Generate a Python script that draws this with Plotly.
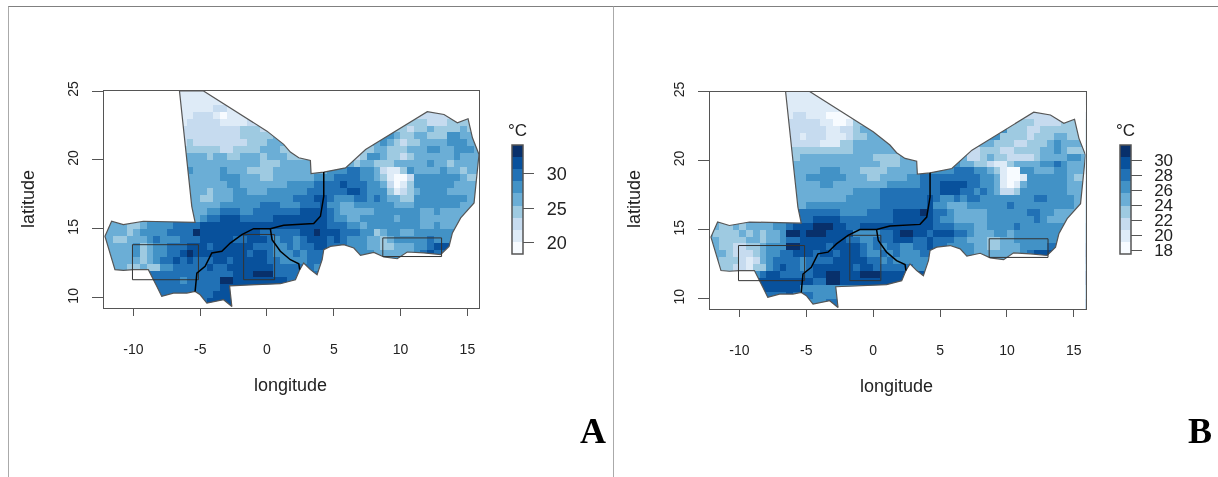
import numpy as np
import plotly.graph_objects as go

# Colour classes read from the two maps (0 palest ... 8 darkest), 0.5 degree cells,
# north to south, '.' = outside the region.
LEVELS_A = [
"...........111111",
"............1111111",
"............111112211",
"............11222101111..........................222",
"............122222111122.......................3322233",
"............22222222233323..............4333332334333343",
"............222222222333334...........444455433443335544",
"............23222222223334444.......443344543233444455544",
".............33333223333444333.....5444334433344455445554",
".............4443443344434443334.5554423554332344444454444",
".............444444444443334444455555434433344444544344444",
".............54444544433334444444455566554211354444544344",
"..............44445554443344444455566665543100255555554334",
"..............4444455444444455556666766655420135555554444",
"..............4434445544455555566666677655531234555544444",
"..............4334445555555556667765556656544335555555544",
"..............444455555566655566675544555555444555555544",
"..............4455666556666666777765444445555555445444",
"..............456677766666777777776554455555455544444",
".444334555566667777777777777777777666554555555554454",
"444434555566668777777777666666778777666553455445555",
"443344456555666777776677765665677767655544345555565",
"444445345566677767777776665565667766655544334445567",
".44445345566787777777767765556566655665554444445676",
".44444345667676667767777766555566666555555555555566",
"...4334335566666766777777766666655",
".......666666666666677788866666",
"........6666566666887777777766",
"........666666666677",
".........66666666777",
"..............667777",
"................7777",
]
LEVELS_B = [
"...........111111",
"............1111111",
"............111111110",
"............12211100000..........................222",
"............222221100133.......................3322223",
"............22222211223444..............3455533322333333",
"............221222111233444...........445555333323334433",
"............22222111334444444.......445444433322333454444",
".............33333333344444444....5443222333223333445433",
".............3444444444443333444.5555442234332222344445544",
".............444444444444433344455566544332113444455654444",
".............44445554443333444444555566655431005544455444",
"..............45555554443344445566666666655410015555554334",
"..............4445544444444555556667777665541014555555444",
"..............4444444455556666666667776656542235555555444",
"..............4444444555556666666765565665555555566555544",
"..............455555555555666666675544455555565555555554",
"..............6666665555666677778766544444555555665544",
"..............667777666666667777776554444455555556544",
".433434444556777888776677777777777666555445555655555",
"433334343445887888777755556678877677766544455455555",
"443333443445667777777665566677766766655444334455555",
"4433223345558877776777765656655667665555443344455556",
".44322234556677767767776556565556655555544444445677",
".43332124566665666677777665655555555555444444455566",
"...3221335676656777777677666666555",
".......567766666778877788877777",
"........7777777766887777777777",
"........777777555555",
".........66676665555",
"..............555566",
"................6666",
]

# Class limits in degrees C taken from the two colour keys
KEY_RANGE_A = [18.4, 34.2]
KEY_RANGE_B = [17.5, 32.0]
BLUES = ["#F7FBFF", "#DEEBF7", "#C6DBEF", "#9ECAE1", "#6BAED6",
         "#4292C6", "#2171B5", "#08519C", "#08306B"]
TICKS_A = [20, 25, 30]
TICKS_B = [18, 20, 22, 24, 26, 28, 30]
LON_TICKS = [-10, -5, 0, 5, 10, 15]
LAT_TICKS = [10, 15, 20, 25]

# Region outline (lon, lat)
OUTER_LON = [-6.55, -4.75, 0, 1.25, 1.75, 2.38, 3.25, 3.3, 4.25, 5.88, 7.38, 12, 13.25, 14.25, 15.05,
             15.38, 15.87, 15.7, 15.5, 14.5, 13.88, 13.63, 13, 11.75, 10.5, 9.75, 8.75, 8, 7, 6.5, 5.75,
             4.75, 4.25, 4.13, 3.75, 3.25, 2.75, 2.45, 2.13, 1, -0.5, -2.8, -2.63, -3.25, -4.5, -5, -5.38,
             -6, -7, -7.88, -8.25, -8.5, -8.88, -10, -10.75, -11.38, -11.75, -12.13, -11.63, -10.75, -9.25,
             -5.38, -5.63, -6.55]
OUTER_LAT = [25, 25, 22.09, 21.13, 20.57, 20.16, 19.96, 19.02, 19.12, 19.43, 20.76, 23.5, 23.3, 22.7, 22.99,
             21.61, 20.4, 18.83, 16.89, 15.8, 14.71, 13.74, 13.14, 13.26, 13.33, 12.84, 12.97, 13.3, 13.09, 13.62, 13.86,
             13.74, 13.5, 12.77, 11.68, 12.05, 12.53, 12.05, 11.32, 11.03, 10.96, 10.88, 9.38, 9.87, 9.62, 10.23, 10.47,
             10.35, 10.35, 10.11, 10.84, 11.32, 12.05, 12.05, 12.0, 12.05, 13.26, 14.47, 15.56, 15.31, 15.56,
             15.48, 16.64, 25]
MALI_LON = [4.25, 4.25, 4, 3.5, 1.25, 0.25, -1, -1.88, -2.75, -3.38, -4.13, -4.63, -5.25, -5.38]
MALI_LAT = [19.12, 17.37, 15.92, 15.39, 15.27, 15.02, 15.02, 14.59, 13.98, 13.38, 13.26, 12.29, 11.8, 10.47]
BF_LON = [0.25, 0.38, 1, 1.75, 2.38, 2.45]
BF_LAT = [15.02, 14.22, 13.38, 12.77, 12.48, 12.05]
BOX_LON = [-10.07, -5.13, -5.13, -10.07, -10.07, None,
           -1.75, 0.57, 0.57, -1.75, -1.75, None,
           8.67, 13.07, 13.07, 8.67, 8.67]
BOX_LAT = [13.86, 13.86, 11.32, 11.32, 13.86, None,
           14.6, 14.6, 11.32, 11.32, 14.6, None,
           14.35, 14.35, 13.0, 13.0, 14.35]

W, H = 1218, 477
FONT = "Liberation Sans"
TXT = "#222222"
COLS = 58
lon_edges = -12.5 + 0.5 * np.arange(COLS + 1)
lat_edges = 25 - 0.5 * np.arange(len(LEVELS_A) + 1)


def to_grid(rows, rng):
    step = (rng[1] - rng[0]) / 9
    out = []
    for r in rows:
        r = r.ljust(COLS, ".")[:COLS]
        known = [i for i, ch in enumerate(r) if ch != "."]
        # Cells outside the outline only sit under the white mask.
        cells = [r[i] if r[i] != "." else r[min(known, key=lambda k: abs(k - i))] for i in range(COLS)]
        out.append([rng[0] + (int(ch) + 0.5) * step for ch in cells])
    return out


def stepped():
    cs = []
    for i, c in enumerate(BLUES):
        cs += [[i / 9, c], [(i + 1) / 9, c]]
    return cs


def note(x, y, text, size, family=FONT, color=TXT, angle=0):
    fig.add_annotation(x=x / W, y=1 - y / H, xref="paper", yref="paper", xanchor="center", yanchor="middle",
                       text=text, showarrow=False, textangle=angle, font=dict(family=family, size=size, color=color))


fig = go.Figure()
panels = [
    dict(sfx="", rows=LEVELS_A, rng=KEY_RANGE_A, ticks=TICKS_A, left=104, right=479, top=91, bottom=308, bar=512,
         name="A", key_font=18),
    dict(sfx="2", rows=LEVELS_B, rng=KEY_RANGE_B, ticks=TICKS_B, left=710, right=1085.5, top=91.5, bottom=309, bar=1119.5,
         name="B", key_font=17),
]
mask_x = [-13, -13, 17, 17, -13] + OUTER_LON + [-13]
mask_y = [26, 9, 9, 26, 26] + OUTER_LAT + [26]

for p in panels:
    xa, ya = "x" + p["sfx"], "y" + p["sfx"]
    fig.add_trace(go.Heatmap(
        z=to_grid(p["rows"], p["rng"]), x=lon_edges, y=lat_edges, xaxis=xa, yaxis=ya,
        zmin=p["rng"][0], zmax=p["rng"][1], colorscale=stepped(),
        colorbar=dict(
            x=p["bar"] / W, xanchor="left", xref="paper", y=1 - 145 / H, yanchor="top", yref="paper",
            len=109, lenmode="pixels", thickness=11, thicknessmode="pixels", xpad=0, ypad=0,
            outlinecolor="#555555", outlinewidth=1.5, borderwidth=0,
            tickmode="array", tickvals=p["ticks"], ticktext=["\u2002" + str(t) for t in p["ticks"]],
            ticks="outside", ticklen=11, tickwidth=1,
            tickcolor="#555555", tickfont=dict(family=FONT, size=p["key_font"], color=TXT),
        ),
    ))
    fig.add_trace(go.Scatter(x=mask_x, y=mask_y, xaxis=xa, yaxis=ya, mode="none", fill="toself",
                             fillcolor="white", hoverinfo="skip", showlegend=False))
    fig.add_trace(go.Scatter(x=OUTER_LON, y=OUTER_LAT, xaxis=xa, yaxis=ya, mode="lines",
                             line=dict(color="#555555", width=1.2), hoverinfo="skip", showlegend=False))
    fig.add_trace(go.Scatter(x=BOX_LON, y=BOX_LAT, xaxis=xa, yaxis=ya, mode="lines",
                             line=dict(color="#333333", width=1), hoverinfo="skip", showlegend=False))
    for lx, ly in ((MALI_LON, MALI_LAT), (BF_LON, BF_LAT)):
        fig.add_trace(go.Scatter(x=lx, y=ly, xaxis=xa, yaxis=ya, mode="lines",
                                 line=dict(color="#000000", width=1.5), hoverinfo="skip", showlegend=False))
    common = dict(showgrid=False, zeroline=False, showline=True, mirror=True, linecolor="#555555", linewidth=1.2,
                  ticks="outside", tickcolor="#555555", tickwidth=1,
                  tickfont=dict(family=FONT, size=14, color=TXT))
    fig.update_layout({
        "xaxis" + p["sfx"]: dict(common, domain=[p["left"] / W, p["right"] / W], range=[-12.2, 15.87],
                                 anchor=ya, tickmode="array", tickvals=LON_TICKS,
                                 ticktext=[str(t) for t in LON_TICKS], ticklen=7, ticklabelstandoff=21),
        "yaxis" + p["sfx"]: dict(common, domain=[1 - p["bottom"] / H, 1 - p["top"] / H], range=[9.27, 25],
                                 anchor=xa, tickmode="array", tickvals=LAT_TICKS, ticklen=11, tickangle=-90,
                                 ticklabelstandoff=8),
    })
    is_b = p["name"] == "B"
    note((p["left"] + p["right"]) / 2 - 1, 386 if is_b else 385, "longitude", 18)
    note(p["left"] - 76, 199, "latitude", 18, angle=-90)
    note(p["bar"] + 5.5, 130, "°C", 17)
    note(1200 if is_b else 593, 431, "<b>%s</b>" % p["name"], 36, family="Liberation Serif", color="black")

fig.update_layout(
    width=W, height=H, autosize=False, margin=dict(l=0, r=0, t=0, b=0, autoexpand=False),
    paper_bgcolor="white", plot_bgcolor="white", showlegend=False,
    shapes=[
        dict(type="line", xref="paper", yref="paper", line=dict(color="#808080", width=1),
             x0=8 / W, x1=1, y0=1 - 6.5 / H, y1=1 - 6.5 / H),
        dict(type="line", xref="paper", yref="paper", line=dict(color="#aaaaaa", width=1),
             x0=8.5 / W, x1=8.5 / W, y0=0, y1=1 - 6.5 / H),
        dict(type="line", xref="paper", yref="paper", line=dict(color="#aaaaaa", width=1),
             x0=613.5 / W, x1=613.5 / W, y0=0, y1=1 - 6.5 / H),
    ],
)
# Pin the plot to the window's corner and give it the reference's soft focus.
fig.write_html("out.html", config={"displayModeBar": False}, post_script=(
    "document.body.style.margin='0';"
    "var d=document.getElementById('{plot_id}');"
    "d.style.position='fixed';d.style.left='0';d.style.top='0';d.style.filter='blur(0.6px)';"
))
